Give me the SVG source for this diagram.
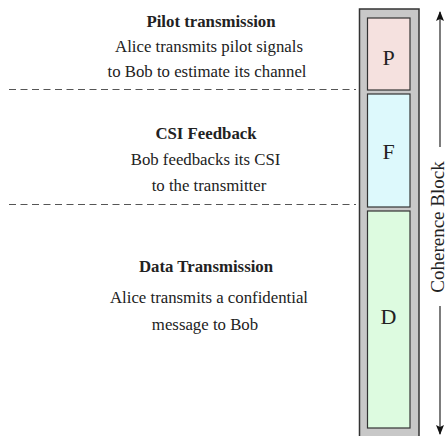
<svg xmlns="http://www.w3.org/2000/svg" width="448" height="436" viewBox="0 0 448 436">
<style>
.t{font-family:"Liberation Serif","Times New Roman",serif;font-size:16.8px;fill:#222;text-anchor:middle}
.b{font-weight:bold}
.lbl{font-family:"Liberation Serif","Times New Roman",serif;font-size:22px;fill:#222;text-anchor:middle}
.dash{stroke:#555;stroke-width:1;stroke-dasharray:7 4.5;fill:none}
.box{stroke:#333;stroke-width:1.2}
</style>
<defs>
<marker id="ah" markerWidth="10" markerHeight="8" refX="9" refY="4" orient="auto" markerUnits="userSpaceOnUse">
<path d="M0,0 L10,4 L0,8 L2,4 Z" fill="#111"/>
</marker>
</defs>
<rect width="448" height="436" fill="#fff"/>
<g id="pilot-text">
<text class="t b" x="211" y="27">Pilot transmission</text>
<text class="t" x="209" y="52">Alice transmits pilot signals</text>
<text class="t" x="207" y="77">to Bob to estimate its channel</text>
</g>
<g id="csi-text">
<text class="t b" x="206" y="139">CSI Feedback</text>
<text class="t" x="205.5" y="165">Bob feedbacks its CSI</text>
<text class="t" x="209" y="191">to the transmitter</text>
</g>
<g id="data-text">
<text class="t b" x="206" y="272">Data Transmission</text>
<text class="t" x="209" y="303">Alice transmits a confidential</text>
<text class="t" x="205" y="330">message to Bob</text>
</g>
<g id="separators">
<line class="dash" x1="9" y1="89.5" x2="356" y2="89.5"/>
<line class="dash" x1="9" y1="204.5" x2="356" y2="204.5"/>
</g>
<g id="frame">
<rect x="359.5" y="9" width="59.5" height="440" fill="#c8c8c8" stroke="#333" stroke-width="1.5"/>
</g>
<g id="P">
<rect class="box" x="367.5" y="18" width="42.5" height="72" fill="#f5e1df"/>
<text class="lbl" x="388.5" y="65">P</text>
</g>
<g id="F">
<rect class="box" x="367.5" y="94" width="42.5" height="113" fill="#ddf9fc"/>
<text class="lbl" x="388.5" y="159">F</text>
</g>
<g id="D">
<rect class="box" x="367.5" y="211" width="42.5" height="217" fill="#ddfbe0"/>
<text class="lbl" x="388.5" y="324">D</text>
</g>
<g id="connectors">
<line x1="440" y1="147" x2="440" y2="12" stroke="#111" stroke-width="1.1" marker-end="url(#ah)"/>
<line x1="440" y1="306" x2="440" y2="434" stroke="#111" stroke-width="1.1" marker-end="url(#ah)"/>
</g>
<g id="coherence-label">
<text x="443.5" y="227" transform="rotate(-90 443.5 227)" style="font-family:'Liberation Serif','Times New Roman',serif;font-size:19px;fill:#222;text-anchor:middle">Coherence Block</text>
</g>
</svg>
